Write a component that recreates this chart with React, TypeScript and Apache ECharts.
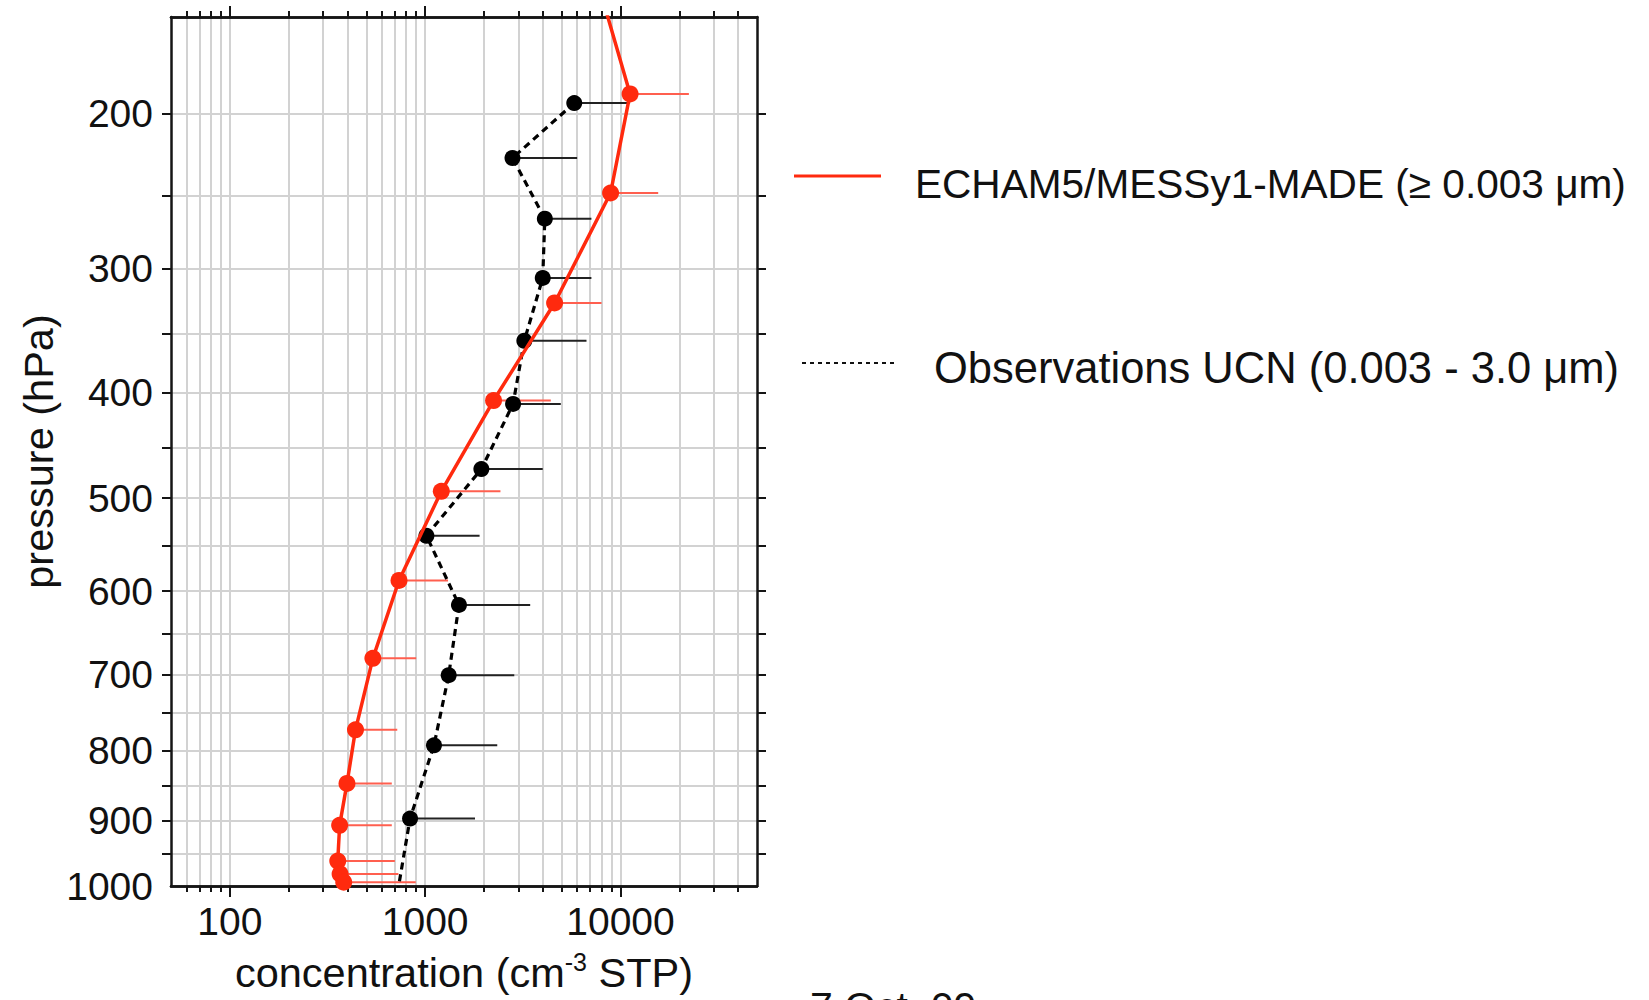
import React, { useEffect, useRef } from "react";
import * as echarts from "echarts";

// ---------- data ----------
const modelPressure = [140, 189, 248, 326, 407, 493, 588, 680, 772, 846, 907, 961, 981, 994];
const modelConc = [8000, 11200, 8900, 4600, 2240, 1210, 735, 540, 440, 398, 365, 357, 367, 383];
const modelErr = [null, 22400, 15600, 8000, 4400, 2430, 1310, 900, 720, 675, 675, 700, 730, 895];

const obsPressure = [194, 226, 265, 307, 356, 410, 471, 539, 616, 701, 793, 897, 1013];
const obsConc = [5800, 2800, 4100, 4000, 3220, 2820, 1940, 1015, 1490, 1320, 1110, 837, 720];
const obsErr = [11200, 6000, 7100, 7100, 6700, 4950, 4000, 1900, 3450, 2860, 2340, 1800, null];

const xLabelTicks = [100, 1000, 10000];
const xMinorTicks = [60, 70, 80, 90, 200, 300, 400, 500, 600, 700, 800, 900, 2000, 3000, 4000, 5000, 6000, 7000, 8000, 9000, 20000, 30000, 40000];
const pressureLabelTicks = [200, 300, 400, 500, 600, 700, 800, 900, 1000];
const pressureMinorTicks = [200, 250, 300, 350, 400, 450, 500, 550, 600, 650, 700, 750, 800, 850, 900, 950];

const modelName = "ECHAM5/MESSy1-MADE (\u2265 0.003 \u03bcm)";
const obsName = "Observations UCN (0.003 - 3.0 \u03bcm)";
const dateText = "7 Oct. 09";

// pressure axis scaling (pressure^K)
const K = 0.36;
const f = (p: number) => Math.pow(p, K);
const finv = (v: number) => Math.pow(v, 1 / K);

const FONT = "'Liberation Sans', Arial, Helvetica, sans-serif";
const RED = "#ff2a0e";
const RED_ERR = "#ff5f4f";
const AXIS_COLOR = "#151515";
const GRID_COLOR = "#d2d2d2";

function xAxisDef(position: string, values: number[], len: number, withLabels: boolean, split: boolean) {
  const ax: any = {
    type: "log",
    logBase: 10,
    min: 50,
    max: 50000,
    position,
    gridIndex: 0,
    axisLine: { show: true, onZero: false, lineStyle: { color: AXIS_COLOR, width: 2.5 } },
    axisTick: { show: true, inside: false, length: len, customValues: values, lineStyle: { color: AXIS_COLOR, width: 2 } },
    axisLabel: { show: false },
    splitLine: { show: split, lineStyle: { color: GRID_COLOR, width: 2 } },
    minorTick: { show: false },
    minorSplitLine: { show: false },
  };
  if (withLabels) {
    ax.axisLabel = {
      show: true,
      customValues: xLabelTicks,
      formatter: (v: number) => String(Math.round(v)),
      fontSize: 39,
      fontFamily: FONT,
      color: "#111",
      margin: 16,
    };
    ax.name = "concentration (cm{sup|-3} STP)";
    ax.nameLocation = "middle";
    ax.nameGap = 63;
    ax.nameTextStyle = {
      fontSize: 41.5,
      fontFamily: FONT,
      color: "#111",
      lineHeight: 46,
      rich: {
        sup: { fontSize: 25, fontFamily: FONT, color: "#111", verticalAlign: "top", lineHeight: 25 },
      },
    };
  }
  return ax;
}

function yAxisDef(position: string, withLabels: boolean) {
  const ax: any = {
    type: "value",
    inverse: true,
    min: f(150),
    max: f(1000),
    position,
    gridIndex: 0,
    axisLine: { show: true, onZero: false, lineStyle: { color: AXIS_COLOR, width: 2.5 } },
    axisTick: { show: true, inside: false, length: 9, customValues: pressureMinorTicks.map(f), lineStyle: { color: AXIS_COLOR, width: 2 } },
    axisLabel: { show: false },
    splitLine: { show: withLabels, lineStyle: { color: GRID_COLOR, width: 2 } },
  };
  if (withLabels) {
    ax.axisLabel = {
      show: true,
      customValues: pressureLabelTicks.map(f),
      formatter: (v: number) => String(Math.round(finv(v))),
      fontSize: 39,
      fontFamily: FONT,
      color: "#111",
      margin: 18,
    };
    ax.name = "pressure (hPa)";
    ax.nameLocation = "middle";
    ax.nameGap = 112;
    ax.nameTextStyle = { fontSize: 41.5, fontFamily: FONT, color: "#111" };
  }
  return ax;
}

function errBarSeries(conc: (number | null)[], err: (number | null)[], pres: number[], color: string, width: number) {
  const data: number[][] = [];
  conc.forEach((c, i) => {
    const e = err[i];
    if (c != null && e != null) data.push([c as number, e as number, f(pres[i])]);
  });
  return {
    type: "custom",
    xAxisIndex: 0,
    yAxisIndex: 0,
    clip: true,
    z: 2,
    encode: { x: [0, 1], y: 2 },
    renderItem: (params: any, api: any) => {
      const s = api.coord([api.value(0), api.value(2)]);
      const e = api.coord([api.value(1), api.value(2)]);
      return {
        type: "line",
        shape: { x1: s[0], y1: s[1], x2: e[0], y2: e[1] },
        style: { stroke: color, lineWidth: width },
      };
    },
    data,
  };
}

export default function App() {
  const ref = useRef<HTMLDivElement>(null);
  useEffect(() => {
    if (!ref.current) return;
    const chart = echarts.init(ref.current, null, { renderer: "svg" });
    const option: any = {
      animation: false,
      backgroundColor: "#ffffff",
      grid: { left: 171, top: 17, width: 586, height: 873, containLabel: false },
      xAxis: [
        xAxisDef("bottom", xLabelTicks, 11, true, true),
        xAxisDef("bottom", xMinorTicks, 6, false, true),
        xAxisDef("top", xLabelTicks, 11, false, false),
        xAxisDef("top", xMinorTicks, 6, false, false),
      ],
      yAxis: [yAxisDef("left", true), yAxisDef("right", false)],
      series: [
        errBarSeries(modelConc, modelErr, modelPressure, RED_ERR, 2),
        errBarSeries(obsConc, obsErr, obsPressure, "#222222", 2),
        {
          type: "line",
          name: obsName,
          xAxisIndex: 0,
          yAxisIndex: 0,
          clip: true,
          z: 3,
          data: obsConc.map((c, i) => [c, f(obsPressure[i])]),
          symbol: "circle",
          symbolSize: 16,
          itemStyle: { color: "#000" },
          lineStyle: { color: "#000", width: 3.2, type: [7, 5] },
        },
        {
          type: "line",
          name: modelName,
          xAxisIndex: 0,
          yAxisIndex: 0,
          clip: true,
          z: 4,
          data: modelConc.map((c, i) => [c, f(modelPressure[i])]),
          symbol: "circle",
          symbolSize: 17,
          itemStyle: { color: RED },
          lineStyle: { color: RED, width: 3.5 },
        },
      ],
      graphic: [
        { type: "line", shape: { x1: 794, y1: 176, x2: 881, y2: 176 }, style: { stroke: RED, lineWidth: 3 } },
        { type: "text", x: 915, y: 184, style: { text: modelName, fontSize: 40.6, fontFamily: FONT, fill: "#111", verticalAlign: "middle" } },
        { type: "line", shape: { x1: 802, y1: 363, x2: 897, y2: 363 }, style: { stroke: "#111", lineWidth: 2, lineDash: [4, 4] } },
        { type: "text", x: 934, y: 368, style: { text: obsName, fontSize: 43.5, fontFamily: FONT, fill: "#111", verticalAlign: "middle" } },
        { type: "text", x: 810, y: 986, style: { text: dateText, fontSize: 41, fontFamily: FONT, fill: "#111", verticalAlign: "top" } },
      ],
    };
    chart.setOption(option);
    return () => chart.dispose();
  }, []);
  return (
    <div
      ref={ref}
      style={{ position: "fixed", left: 0, top: 0, width: 1649, height: 1000, background: "#fff" }}
    />
  );
}
